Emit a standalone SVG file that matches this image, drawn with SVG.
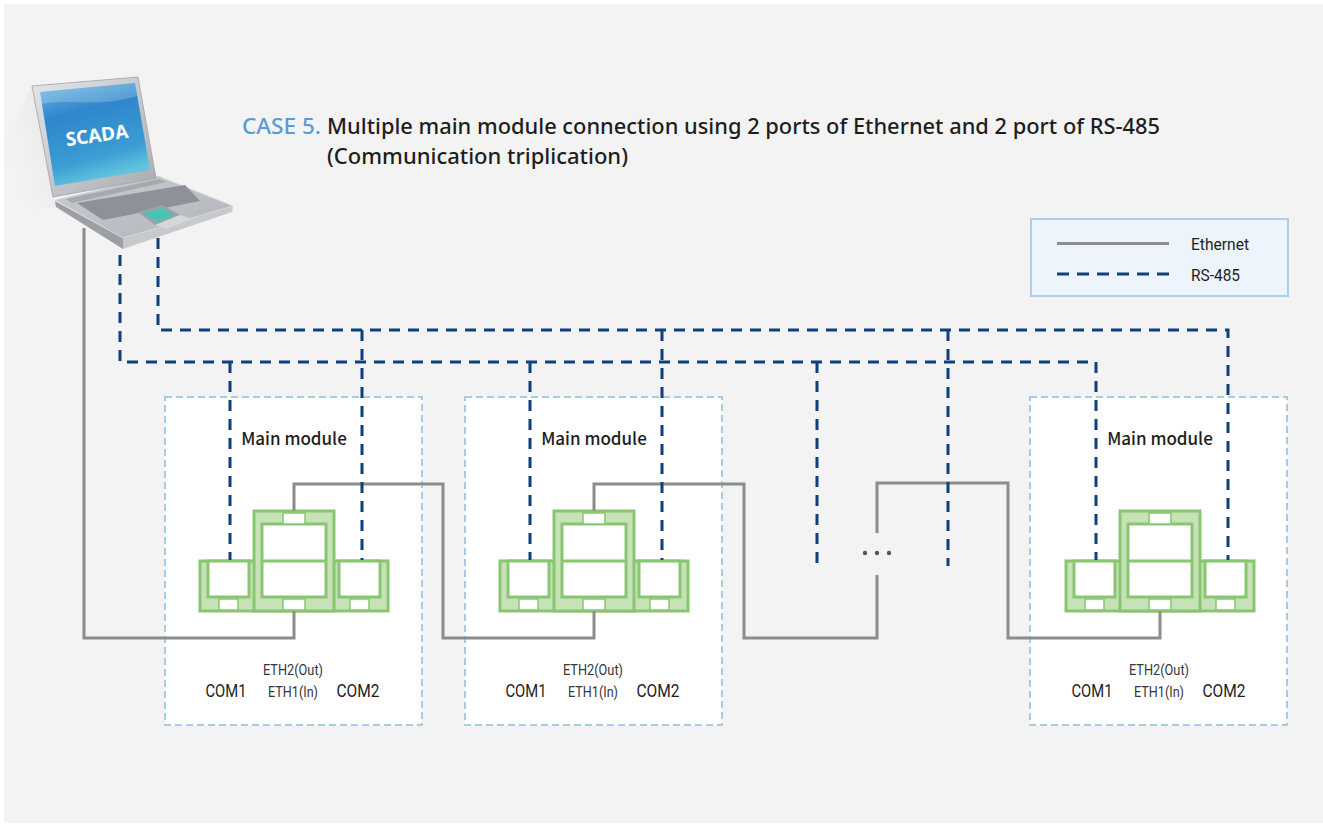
<svg xmlns="http://www.w3.org/2000/svg" width="1323" height="826" viewBox="0 0 1323 826">
  <defs>
    <style>
      .eth { fill: none; stroke: #8c8c8c; stroke-width: 3; }
      .rs { fill: none; stroke: #0f3f7c; stroke-width: 3; stroke-dasharray: 11 8; }
      .box { fill: #ffffff; stroke: #a9cbea; stroke-width: 2; stroke-dasharray: 7 4; }
      .mod-fill { fill: #c6e2b6; stroke: #88c672; stroke-width: 3; }
      .mod-white { fill: #ffffff; stroke: #88c672; stroke-width: 3; }
      .port { fill: #ffffff; stroke: #88c672; stroke-width: 1.5; }
      .title { font-family: "Noto Sans", "Noto Sans CJK KR", sans-serif; font-size: 21.5px; font-weight: 500; fill: #1e1e1e; }
      .mname { font-family: "Noto Sans CJK KR", "Noto Sans", sans-serif; font-size: 17px; font-weight: 500; fill: #1e1e1e; text-anchor: middle; }
      .com { font-family: Roboto, "Liberation Sans", sans-serif; font-size: 17.5px; fill: #1e1e1e; text-anchor: middle; }
      .ethl { font-family: Roboto, "Liberation Sans", sans-serif; font-size: 15px; fill: #383838; text-anchor: middle; }
      .leg { font-family: Roboto, "Liberation Sans", sans-serif; font-size: 17px; fill: #1e1e1e; }
    </style>
    <linearGradient id="screenGrad" x1="0" y1="0" x2="0.3" y2="1">
      <stop offset="0" stop-color="#6cb8e6"/>
      <stop offset="0.35" stop-color="#2f86cc"/>
      <stop offset="0.8" stop-color="#3a9ed3"/>
      <stop offset="1" stop-color="#62c3dc"/>
    </linearGradient>
    <linearGradient id="lidGrad" x1="0" y1="0" x2="1" y2="1">
      <stop offset="0" stop-color="#e4e6e9"/>
      <stop offset="1" stop-color="#a7abb1"/>
    </linearGradient>
    <linearGradient id="deckGrad" x1="0" y1="0" x2="1" y2="1">
      <stop offset="0" stop-color="#c9cbcf"/>
      <stop offset="1" stop-color="#b2b5ba"/>
    </linearGradient>
    <linearGradient id="shadowGrad" x1="1" y1="0" x2="0" y2="0.6">
      <stop offset="0" stop-color="#e2e2e2"/>
      <stop offset="1" stop-color="#f3f3f3" stop-opacity="0"/>
    </linearGradient>
    <!-- main module block, drawn around its centre x = 0 -->
    <g id="moduleShape">
      <rect class="mod-fill" x="-94" y="561" width="188" height="50"/>
      <rect class="mod-fill" x="-40" y="511" width="80" height="100"/>
      <rect class="mod-white" x="-86" y="561" width="41" height="36"/>
      <rect class="mod-white" x="45" y="561" width="41" height="36"/>
      <rect class="mod-white" x="-32" y="524" width="64" height="73"/>
      <line x1="-32" y1="561" x2="32" y2="561" stroke="#88c672" stroke-width="3"/>
      <rect class="port" x="-11" y="513" width="22" height="11"/>
      <rect class="port" x="-11" y="599" width="22" height="11"/>
      <rect class="port" x="-75" y="599" width="19" height="11"/>
      <rect class="port" x="56" y="599" width="19" height="11"/>
    </g>
  </defs>

  <!-- page background -->
  <rect x="0" y="0" width="1323" height="826" fill="#ffffff"/>
  <rect x="4" y="4" width="1319" height="819" fill="#f3f3f3"/>

  <!-- title -->
  <g id="title">
    <text class="title" x="242" y="134" style="fill:#5b9bd5" textLength="79" lengthAdjust="spacingAndGlyphs">CASE 5.</text>
    <text class="title" x="327" y="134" textLength="833" lengthAdjust="spacingAndGlyphs">Multiple main module connection using 2 ports of Ethernet and 2 port of RS-485</text>
    <text class="title" x="327" y="164" textLength="301" lengthAdjust="spacingAndGlyphs">(Communication triplication)</text>
  </g>

  <!-- legend -->
  <g id="legend">
    <rect x="1031" y="219" width="257" height="77" fill="#eef4fb" stroke="#aecde9" stroke-width="2"/>
    <line class="eth" x1="1057" y1="243.5" x2="1169" y2="243.5"/>
    <line class="rs" x1="1057" y1="274" x2="1169" y2="274" style="stroke-dasharray:12 8"/>
    <text class="leg" x="1191" y="250" textLength="58" lengthAdjust="spacingAndGlyphs">Ethernet</text>
    <text class="leg" x="1191" y="281" textLength="49" lengthAdjust="spacingAndGlyphs">RS-485</text>
  </g>

  <!-- module frames -->
  <g id="module1">
    <rect class="box" x="165" y="397" width="257" height="328"/>
    <text class="mname" x="294" y="445">Main module</text>
    <use href="#moduleShape" transform="translate(294,0)"/>
    <text class="ethl" x="293" y="675" textLength="60" lengthAdjust="spacingAndGlyphs">ETH2(Out)</text>
    <text class="com" x="226" y="697" textLength="41" lengthAdjust="spacingAndGlyphs">COM1</text>
    <text class="ethl" x="293" y="697" textLength="50" lengthAdjust="spacingAndGlyphs">ETH1(In)</text>
    <text class="com" x="358" y="697" textLength="43" lengthAdjust="spacingAndGlyphs">COM2</text>
  </g>
  <g id="module2">
    <rect class="box" x="465" y="397" width="257" height="328"/>
    <text class="mname" x="594" y="445">Main module</text>
    <use href="#moduleShape" transform="translate(594,0)"/>
    <text class="ethl" x="593" y="675" textLength="60" lengthAdjust="spacingAndGlyphs">ETH2(Out)</text>
    <text class="com" x="526" y="697" textLength="41" lengthAdjust="spacingAndGlyphs">COM1</text>
    <text class="ethl" x="593" y="697" textLength="50" lengthAdjust="spacingAndGlyphs">ETH1(In)</text>
    <text class="com" x="658" y="697" textLength="43" lengthAdjust="spacingAndGlyphs">COM2</text>
  </g>
  <g id="module3">
    <rect class="box" x="1030" y="397" width="257" height="328"/>
    <text class="mname" x="1160" y="445">Main module</text>
    <use href="#moduleShape" transform="translate(1160,0)"/>
    <text class="ethl" x="1159" y="675" textLength="60" lengthAdjust="spacingAndGlyphs">ETH2(Out)</text>
    <text class="com" x="1092" y="697" textLength="41" lengthAdjust="spacingAndGlyphs">COM1</text>
    <text class="ethl" x="1159" y="697" textLength="50" lengthAdjust="spacingAndGlyphs">ETH1(In)</text>
    <text class="com" x="1224" y="697" textLength="43" lengthAdjust="spacingAndGlyphs">COM2</text>
  </g>

  <!-- connectors -->
  <g id="connectors">
    <!-- Ethernet daisy chain -->
    <path class="eth" d="M84,228 V638 H294 V611"/>
    <path class="eth" d="M294,511 V484 H443 V638 H594 V611"/>
    <path class="eth" d="M594,511 V484 H744 V638 H877 V575"/>
    <path class="eth" d="M877,533 V483 H1008 V638 H1160 V611"/>
    <!-- RS-485 bus 1 (COM1) -->
    <path class="rs" d="M120,255 V362 H1096 V560"/>
    <path class="rs" d="M230,362 V560"/>
    <path class="rs" d="M530,362 V560"/>
    <path class="rs" d="M817,362 V566"/>
    <!-- RS-485 bus 2 (COM2) -->
    <path class="rs" d="M158,238 V330 H1228 V560"/>
    <path class="rs" d="M362,330 V560"/>
    <path class="rs" d="M662,330 V560"/>
    <path class="rs" d="M948,330 V566"/>
    <!-- continuation dots -->
    <circle cx="865" cy="553" r="2.2" fill="#555555"/>
    <circle cx="877" cy="553" r="2.2" fill="#555555"/>
    <circle cx="889" cy="553" r="2.2" fill="#555555"/>
  </g>

  <!-- SCADA laptop -->
  <g id="scada">
    <polygon points="32,86 0,150 0,215 56,207" fill="url(#shadowGrad)"/>
    <!-- base -->
    <polygon points="55,201 123,238 123,249 56,207" fill="#9c9fa5"/>
    <polygon points="123,238 233,206 232,212 123,249" fill="#c7c9cd"/>
    <polygon points="55,200 158,176 233,206 123,238" fill="url(#deckGrad)" stroke="#d9dbde" stroke-width="0.8"/>
    <polygon points="77,203 185,185 200,201 103,220" fill="#8f9198"/>
    <polygon points="66,199 160,179 166,182 72,203" fill="#a6a9ae"/>
    <polygon points="138,212 162,205 180,215 155,225" fill="#9ea1a6"/>
    <polygon points="143,213 162,208 175,215 157,222" fill="#49c3b3"/>
    <polygon points="155,225 180,215 192,219 166,229" fill="#d5d7da"/>
    <!-- lid -->
    <polygon points="32,86 138,77 156,178 53,197" fill="url(#lidGrad)" stroke="#9ea2a8" stroke-width="0.8"/>
    <polygon points="40,92 135,83 150,170 55,186" fill="url(#screenGrad)"/>
    <path d="M41,104 C70,98 100,108 137,96 L135,83 L40,92 Z" fill="#ffffff" opacity="0.2"/>
    <text x="97" y="142" transform="rotate(-8 97 136)" text-anchor="middle" font-family="'Open Sans', 'DejaVu Sans', sans-serif" font-weight="bold" font-size="19" fill="#ffffff">SCADA</text>
  </g>
</svg>
